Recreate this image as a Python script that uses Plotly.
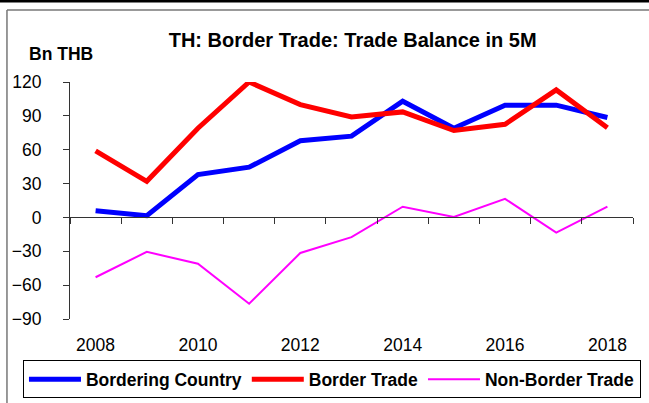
import plotly.graph_objects as go

years = [2008, 2009, 2010, 2011, 2012, 2013, 2014, 2015, 2016, 2017, 2018]
bordering_country = [6, 1.5, 38, 44.5, 68, 72, 103, 79, 99.5, 99.5, 88.5]
border_trade = [59, 32, 79, 120, 100, 89, 93.5, 77, 82.5, 113, 79.5]
non_border_trade = [-53, -30.5, -41, -76.5, -31.5, -17.5, 9.5, 0.5, 16.5, -13.5, 9.5]
y_ticks = [-90, -60, -30, 0, 30, 60, 90, 120]
x_label_years = [2008, 2010, 2012, 2014, 2016, 2018]

W, H = 649, 403
L, R, T, B = 70, 16.3, 82, 84.3
PW, PH = W - L - R, H - T - B


def px_x(px):
    return (px - L) / PW


def px_y(py):
    return (H - B - py) / PH


FONT = "Liberation Sans, Arial, sans-serif"

fig = go.Figure()
fig.add_trace(go.Scatter(x=years, y=bordering_country, mode="lines",
                         name="Bordering Country",
                         line=dict(color="#0000FF", width=5)))
fig.add_trace(go.Scatter(x=years, y=border_trade, mode="lines",
                         name="Border Trade",
                         line=dict(color="#FF0000", width=5)))
fig.add_trace(go.Scatter(x=years, y=non_border_trade, mode="lines",
                         name="Non-Border Trade", xaxis="x2",
                         line=dict(color="#FF00FF", width=2)))

x_range = [years[0] - 0.5, years[-1] + 0.5]
boundaries = [y - 0.5 for y in years] + [years[-1] + 0.5]
y_range = [y_ticks[0], y_ticks[-1]]
zero_pos = (0 - y_range[0]) / (y_range[1] - y_range[0])

fig.update_layout(
    width=W, height=H,
    margin=dict(l=L, r=R, t=T, b=B, autoexpand=False),
    paper_bgcolor="white", plot_bgcolor="white",
    font=dict(family=FONT, size=17, color="black"),
    showlegend=True,
    title=dict(text="<b>TH: Border Trade: Trade Balance in 5M</b>",
               x=px_x(352.5), xref="paper", xanchor="center",
               y=1 - 39.5 / H, yref="container", yanchor="middle",
               font=dict(family=FONT, size=20, color="black")),
    xaxis=dict(range=x_range, tickvals=x_label_years,
               ticktext=[str(v) for v in x_label_years],
               showline=False, ticks="", showgrid=False, zeroline=False,
               ticklabelstandoff=13, tickfont=dict(size=17.5, color="black")),
    xaxis2=dict(range=x_range, overlaying="x", matches="x", anchor="free",
                position=zero_pos, side="bottom",
                tickvals=boundaries, showticklabels=False,
                ticks="outside", ticklen=6, tickcolor="#333", tickwidth=1,
                showline=True, linecolor="#333", linewidth=1,
                showgrid=False, zeroline=False),
    yaxis=dict(range=y_range, tickvals=y_ticks, showgrid=False, zeroline=False,
               showline=True, linecolor="#333", linewidth=1,
               ticks="outside", ticklen=6, tickcolor="#333",
               ticklabelstandoff=18, tickfont=dict(size=17.5, color="black")),
    legend=dict(orientation="h", x=px_x(23), xanchor="left",
                y=px_y(360), yanchor="top",
                bordercolor="black", borderwidth=1, bgcolor="white",
                font=dict(family=FONT, size=17.5, color="black", weight="bold"),
                itemwidth=52),
    annotations=[dict(text="<b>Bn THB</b>", xref="paper", yref="paper",
                      x=px_x(61), y=px_y(54), xanchor="center", yanchor="middle",
                      showarrow=False,
                      font=dict(family=FONT, size=17.5, color="black"))],
    shapes=[
        dict(type="line", xref="paper", yref="paper",
             x0=px_x(0), x1=px_x(W), y0=px_y(1), y1=px_y(1),
             line=dict(color="black", width=3)),
        dict(type="line", xref="paper", yref="paper",
             x0=px_x(7), x1=px_x(W), y0=px_y(10), y1=px_y(10),
             line=dict(color="#777", width=1.5)),
        dict(type="line", xref="paper", yref="paper",
             x0=px_x(7), x1=px_x(7), y0=px_y(10), y1=px_y(H),
             line=dict(color="#777", width=1.5)),
    ],
)

fig.write_html(
    "out.html",
    config={"displayModeBar": False},
    post_script="document.body.style.margin='0px';document.body.style.overflow='hidden';",
)
